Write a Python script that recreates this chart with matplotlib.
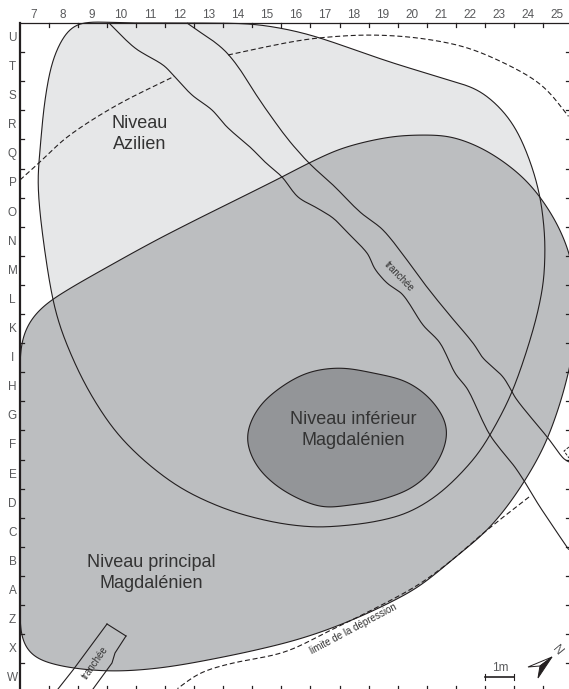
import numpy as np
import matplotlib
matplotlib.use('Agg')
import matplotlib.pyplot as plt
from matplotlib.path import Path
from matplotlib.patches import PathPatch, Polygon

plt.rcParams['font.family'] = ['Liberation Sans', 'DejaVu Sans']

azilien = [(79, 23), (130, 23), (190, 23), (250, 24), (285, 29), (317, 37), (390, 62), (452, 81),
           (478, 90), (502, 110), (518, 133), (532, 167), (540, 197), (544, 227), (545, 250),
           (543, 285), (533, 330), (512, 392), (490, 435), (473, 460), (440, 493), (407, 513),
           (373, 522), (340, 526), (313, 527), (273, 522), (223, 508), (173, 483), (123, 440),
           (90, 393), (65, 340), (53, 300), (42, 230), (38, 183), (40, 150), (45, 100), (53, 60),
           (66, 33)]
principal = [(20, 363), (23, 337), (33, 317), (53, 299), (120, 260), (170, 233), (282, 177),
             (309, 163), (343, 148), (390, 137), (425, 135), (452, 137), (485, 150), (518, 173),
             (540, 197), (560, 230), (572, 265), (576, 315), (569, 370), (548, 437), (522, 485),
             (490, 527), (452, 560), (418, 587), (385, 605), (352, 620), (318, 633), (285, 643),
             (233, 655), (167, 667), (117, 671), (73, 668), (40, 660), (27, 650), (21, 633),
             (20, 600), (20, 500), (20, 420)]
inferieur = [(340, 368), (373, 373), (407, 382), (433, 402), (447, 430), (437, 463), (413, 487),
             (380, 500), (350, 505), (323, 507), (297, 498), (273, 483), (255, 463), (247, 437),
             (257, 410), (277, 390), (307, 373)]

trench_left = [(109, 23), (135, 48), (163, 65), (175, 77), (192, 95), (212, 110), (227, 127),
               (250, 147), (265, 162), (282, 177), (298, 197), (317, 208), (333, 218), (345, 230),
               (367, 253), (375, 269), (387, 283), (403, 295), (423, 325), (440, 343), (455, 373),
               (468, 390), (490, 435), (517, 470), (540, 507), (569, 550)]
trench_right = [(187, 23), (227, 53), (263, 105), (287, 138), (309, 163), (333, 185), (360, 212),
                (383, 230), (407, 260), (423, 282), (447, 312), (473, 343), (483, 358), (503, 377),
                (517, 400), (548, 438), (563, 458), (569, 462)]
trench_low_left = [(107, 624), (73, 670), (58, 689)]
trench_low_right = [(126, 636), (115, 653), (112, 663), (93, 689)]
trench_low_end = [(107, 624), (126, 636)]

limit_top_a = [(20, 180), (40, 162), (67, 137), (117, 105), (175, 76)]
limit_top_b = [(228, 55), (285, 43), (318, 38), (368, 35), (418, 38), (468, 48), (518, 70),
               (545, 88), (569, 117)]
limit_bottom = [(529, 497), (487, 530), (452, 560), (418, 585), (368, 612), (335, 628), (285, 652),
                (233, 663), (200, 673), (177, 689)]
limit_stub = [(569, 447), (564, 451), (569, 458)]

arrow_left = [(552, 657), (528, 667), (540, 666)]
arrow_right = [(552, 657), (540, 666), (538, 678)]

columns = [str(n) for n in range(7, 26)]
rows = list('UTSRQPONMLKIHGFEDCBAZXW')

level_labels = [('Niveau\nAzilien', 140, 134), ('Niveau inférieur\nMagdalénien', 353, 430),
                ('Niveau principal\nMagdalénien', 151, 573)]


def bezier(points, closed=False):
    # bezier path through the read points
    p = np.array(points, dtype=float)
    n = len(p)
    verts = [p[0]]
    codes = [Path.MOVETO]
    last = n if closed else n - 1
    for i in range(last):
        a, b = p[i], p[(i + 1) % n]
        a0 = p[(i - 1) % n] if closed or i > 0 else a
        b1 = p[(i + 2) % n] if closed or i + 2 < n else b
        d = np.linalg.norm(b - a)
        ta = (b - a0) / max(np.linalg.norm(b - a0), 1e-6)
        tb = (b1 - a) / max(np.linalg.norm(b1 - a), 1e-6)
        verts += [a + ta * d / 3, b - tb * d / 3, b]
        codes += [Path.CURVE4] * 3
    return Path(verts, codes)


def smooth(points, sigma, closed=False):
    # iron out reading noise: resample at 1px along the curve, then gaussian blur the coordinates
    xy = bezier(points, closed).to_polygons(closed_only=False)[0]
    s = np.r_[0, np.cumsum(np.hypot(*np.diff(xy, axis=0).T))]
    t = np.arange(0, s[-1], 1.0)
    curve = np.c_[np.interp(t, s, xy[:, 0]), np.interp(t, s, xy[:, 1])]
    r = int(3 * sigma)
    kernel = np.exp(-0.5 * (np.arange(-r, r + 1) / sigma) ** 2)
    kernel /= kernel.sum()
    if closed:
        padded = np.r_[curve[-r:], curve, curve[:r]]
    else:
        padded = np.r_[2 * curve[0] - curve[r:0:-1], curve, 2 * curve[-1] - curve[-2:-r - 2:-1]]
    out = np.c_[np.convolve(padded[:, 0], kernel, 'valid'), np.convolve(padded[:, 1], kernel, 'valid')]
    if closed:
        out = np.r_[out, out[:1]]
    return Path(out)


fig = plt.figure(figsize=(5.69, 6.89), dpi=100)
ax = fig.add_axes([0, 0, 1, 1])
ax.set_xlim(0, 569)
ax.set_ylim(689, 0)
ax.axis('off')

# Fills first, then outlines so Azilien shows through Principal
az_path = smooth(azilien, 9, True)
ax.add_patch(PathPatch(az_path, fc='#e6e7e8', ec='none', zorder=1))
ax.add_patch(PathPatch(smooth(principal, 9, True), fc='#bcbec0', ec='#231f20', lw=0.8, zorder=2))
ax.add_patch(PathPatch(smooth(inferieur, 7, True), fc='#939598', ec='#231f20', lw=0.8, zorder=3))
ax.add_patch(PathPatch(az_path, fc='none', ec='#231f20', lw=0.8, zorder=4))

for line in [trench_left, trench_right]:
    ax.add_patch(PathPatch(smooth(line, 1.5), fc='none', ec='#231f20', lw=0.8, zorder=5))
for line in [trench_low_left, trench_low_right, trench_low_end]:
    ax.plot(*zip(*line), color='#231f20', lw=0.8, zorder=5)

for line in [limit_top_a, limit_top_b, limit_bottom]:
    ax.add_patch(PathPatch(smooth(line, 8), fc='none', ec='#231f20', lw=0.8, ls=(0, (4.5, 2.5)), zorder=5))
ax.plot(*zip(*limit_stub), color='#231f20', lw=0.7, ls=(0, (3, 1.5)), zorder=5)

# Grid frame and ticks
grid_x = 20 + 29.05 * np.arange(0, 20)
grid_y = 23 + 29.1 * np.arange(0, 24)
ax.plot([20, 569], [23, 23], color='#231f20', lw=0.9, zorder=6)
ax.plot([20, 20], [23, 689], color='#231f20', lw=1.6, zorder=6)
for x in grid_x[1:]:
    ax.plot([x, x], [23, 27], color='#231f20', lw=0.9, zorder=6)
    ax.plot([x, x], [686, 689], color='#231f20', lw=0.9, zorder=6)
for y in grid_y[1:23]:
    ax.plot([20, 24], [y, y], color='#231f20', lw=0.9, zorder=6)
    ax.plot([566, 569], [y, y], color='#231f20', lw=0.9, zorder=6)

for i, c in enumerate(columns):
    ax.text(34 + 29.05 * i, 15.5, c, ha='center', va='center', fontsize=8.5, color='#58595b')
for i, r in enumerate(rows):
    ax.text(12.5, 38 + 29.1 * i, r, ha='center', va='center', fontsize=8.5, color='#58595b')

for label, x, y in level_labels:
    ax.text(x, y, label, ha='center', va='center', fontsize=13, color='#333333',
            linespacing=1.3, zorder=7)

ax.text(399, 276, 'tranchée', rotation=-46, ha='center', va='center', fontsize=7,
        color='#333333', zorder=7)
ax.text(95, 663, 'tranchée', rotation=55, ha='center', va='center', fontsize=7,
        color='#333333', zorder=7)
ax.text(353, 629, 'limite de la dépression', rotation=28, ha='center', va='center', fontsize=7,
        color='#333333', zorder=7)

# Scale bar and north arrow
ax.plot([485, 514], [677, 677], color='#231f20', lw=1.2, zorder=7)
ax.plot([485, 485], [674, 680], color='#231f20', lw=0.8, zorder=7)
ax.plot([514, 514], [674, 680], color='#231f20', lw=0.8, zorder=7)
ax.text(500, 668, '1m', ha='center', va='center', fontsize=8.5, color='#58595b')
ax.add_patch(Polygon(arrow_left, closed=True, fc='white', ec='#231f20', lw=0.7, zorder=7))
ax.add_patch(Polygon(arrow_right, closed=True, fc='#231f20', ec='#231f20', lw=0.7, zorder=7))
ax.text(557, 651, 'N', rotation=-50, ha='center', va='center', fontsize=9, color='#58595b')

fig.savefig('out.png', dpi=100)
